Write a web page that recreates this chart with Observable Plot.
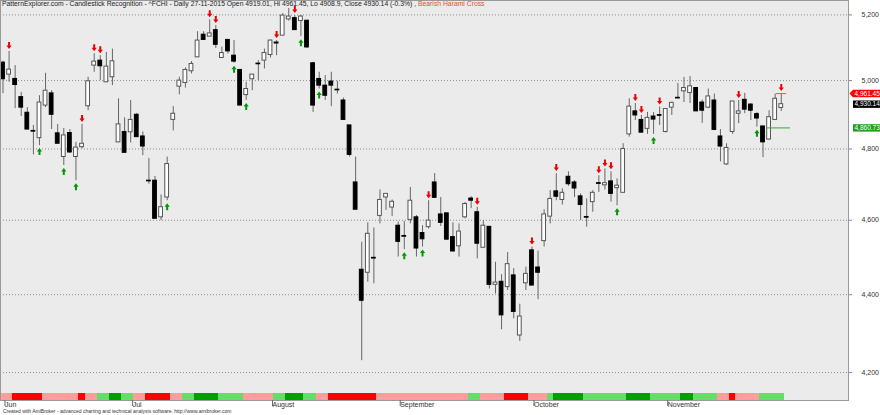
<!DOCTYPE html>
<html><head><meta charset="utf-8">
<script src="https://cdn.jsdelivr.net/npm/d3@7"></script>
<script src="https://cdn.jsdelivr.net/npm/@observablehq/plot@0.6"></script>
<style>
body{margin:0;background:#fff;}
#wrap{position:relative;width:880px;height:415px;overflow:hidden;font-family:"Liberation Sans",Arial,sans-serif;}
#title{position:absolute;left:2px;top:0px;font-size:6.8px;color:#222;white-space:nowrap;}
#title span{color:#e0522a;}
#credit{position:absolute;left:3px;top:408px;font-size:5px;color:#333;white-space:nowrap;}
</style></head><body>
<div id="wrap"><div id="chart"></div>
<div id="title">PatternExplorer.com - Candlestick Recognition - ^FCHI - Daily 27-11-2015 Open 4919.01, Hi 4961.45, Lo 4908.9, Close 4930.14 (-0.3%) , <span>Bearish Harami Cross</span></div>
<div id="credit">Created with AmiBroker - advanced charting and technical analysis software. http://www.amibroker.com</div>
</div>
<script>
// trading days, 2 June 2015 -> 27 Nov 2015
const dates = [
"2015-06-02","2015-06-03","2015-06-04","2015-06-05","2015-06-08","2015-06-09","2015-06-10","2015-06-11","2015-06-12","2015-06-15",
"2015-06-16","2015-06-17","2015-06-18","2015-06-19","2015-06-22","2015-06-23","2015-06-24","2015-06-25","2015-06-26","2015-06-29",
"2015-06-30","2015-07-01","2015-07-02","2015-07-03","2015-07-06","2015-07-07","2015-07-08","2015-07-09","2015-07-10","2015-07-13",
"2015-07-14","2015-07-15","2015-07-16","2015-07-17","2015-07-20","2015-07-21","2015-07-22","2015-07-23","2015-07-24","2015-07-27",
"2015-07-28","2015-07-29","2015-07-30","2015-07-31","2015-08-03","2015-08-04","2015-08-05","2015-08-06","2015-08-07","2015-08-10",
"2015-08-11","2015-08-12","2015-08-13","2015-08-14","2015-08-17","2015-08-18","2015-08-19","2015-08-20","2015-08-21","2015-08-24",
"2015-08-25","2015-08-26","2015-08-27","2015-08-28","2015-08-31","2015-09-01","2015-09-02","2015-09-03","2015-09-04","2015-09-07",
"2015-09-08","2015-09-09","2015-09-10","2015-09-11","2015-09-14","2015-09-15","2015-09-16","2015-09-17","2015-09-18","2015-09-21",
"2015-09-22","2015-09-23","2015-09-24","2015-09-25","2015-09-28","2015-09-29","2015-09-30","2015-10-01","2015-10-02","2015-10-05",
"2015-10-06","2015-10-07","2015-10-08","2015-10-09","2015-10-12","2015-10-13","2015-10-14","2015-10-15","2015-10-16","2015-10-19",
"2015-10-20","2015-10-21","2015-10-22","2015-10-23","2015-10-26","2015-10-27","2015-10-28","2015-10-29","2015-10-30","2015-11-02",
"2015-11-03","2015-11-04","2015-11-05","2015-11-06","2015-11-09","2015-11-10","2015-11-11","2015-11-12","2015-11-13","2015-11-16",
"2015-11-17","2015-11-18","2015-11-19","2015-11-20","2015-11-23","2015-11-24","2015-11-25","2015-11-26","2015-11-27"];

const open = [5054,5018,5005,4951,4905,4852,4831,4926,4962,4845, 4777,4846,4777,4805,4924,5045,5060,4995,5010,4819,
4849,4848,4899,4836,4710,4710,4608,4663,4884,4982, 4993,5028,5070,5139,5133,5153,5068,5123,5075,5032,
4957,5004,5051,5060,5077,5115,5136,5186,5190,5181, 5182,5052,5005,4985,4997,4973,4941,4868,4705,4466,
4458,4498,4612,4663,4635,4585,4557,4601,4608,4565, 4581,4705,4616,4619,4554,4529,4608,4660,4622,4525,
4582,4426,4434,4420,4451,4294,4430,4518,4472,4543, 4610,4680,4656,4721,4705,4666,4609,4650,4703,4697,
4708,4689,4676,4842,4909,4884,4858,4894,4898,4849, 4920,4949,4968,4963,4978,4935,4920,4941,4836,4756,
4849,4902,4943,4929,4901,4865,4827,4884,4919.01];
const high = [5058,5088,5045,4965,4920,4868,4955,5022,4970,4871, 4859,4856,4819,4871,5010,5081,5075,5085,5095,4946,
4890,4941,4903,4849,4773,4722,4670,4777,4923,5010, 5038,5057,5148,5148,5185,5167,5101,5123,5121,5032,
4995,5018,5060,5095,5123,5121,5204,5220,5198,5198, 5184,5055,5025,5015,5025,4998,4948,4868,4777,4540,
4593,4579,4684,4673,4656,4595,4597,4691,4613,4585, 4654,4730,4663,4619,4593,4590,4649,4665,4636,4599,
4582,4486,4453,4512,4469,4375,4473,4527,4516,4629, 4682,4730,4687,4735,4710,4673,4659,4682,4724,4743,
4735,4715,4815,4946,4932,4897,4906,4906,4922,4916, 4936,4992,5010,5012,4978,4942,4975,4960,4856,4815,
4938,4941,4962,4932,4906,4865,4911,4960,4961.45];
const low = [4961,4995,4917,4894,4855,4783,4810,4920,4856,4815, 4753,4787,4710,4801,4911,5025,5000,4995,4985,4819,
4789,4817,4834,4781,4700,4604,4599,4654,4852,4958, 4978,5020,5070,5121,5133,5097,5068,5080,5052,4926,
4941,4970,5000,5035,5068,5075,5136,5181,5153,5133, 5097,4906,4975,4941,4923,4960,4884,4777,4629,4230,
4433,4429,4590,4627,4610,4500,4520,4590,4500,4527, 4576,4662,4583,4545,4513,4500,4604,4632,4495,4525,
4415,4402,4309,4411,4337,4279,4411,4424,4387,4527, 4590,4654,4642,4694,4663,4599,4581,4622,4677,4684,
4650,4640,4676,4834,4882,4847,4842,4842,4868,4846, 4897,4946,4935,4932,4909,4874,4917,4853,4763,4753,
4842,4873,4902,4882,4863,4775,4827,4884,4908.9];
const close = [5004,5033,4987,4920,4856,4850,4935,4970,4899,4815, 4839,4790,4804,4815,4998,5057,5043,5042,5058,4871,
4789,4884,4834,4807,4708,4604,4636,4757,4902,5000, 5032,5050,5121,5123,5143,5108,5083,5088,5057,4926,
4975,5018,5049,5083,5121,5112,5198,5195,5153,5195, 5100,4926,4985,4955,4985,4971,4884,4783,4629,4384,
4563,4496,4656,4673,4651,4541,4555,4654,4523,4548, 4599,4662,4593,4547,4515,4569,4645,4654,4536,4585,
4426,4432,4346,4481,4355,4343,4455,4424,4458,4616, 4659,4665,4676,4700,4688,4642,4607,4676,4701,4703,
4673,4696,4800,4923,4897,4847,4890,4885,4896,4916, 4934,4947,4978,4983,4909,4911,4953,4855,4807,4803,
4938,4909,4914,4911,4888,4819,4892,4946,4930.14];

// trend ribbon state per bar: R strong down, P weak down, G strong up, L weak up
const trend = "PP RRRRR PPPPPP R PP LL GG LL PP RRRR PP LL GGGG LLLL PPPPP LL GGG LL PP RRRRRRRR PPPPPPPPPPPPPPP LL PPPP RRRR PPP L GGGGG LLLLLLL GGGG LLLLL GG LLLL PP R PPPP LLLL".replace(/ /g,"").split("");
const trendColors = {R: "#ff0000", P: "#ff9c9c", G: "#00a000", L: "#66dd66"};

// pattern signals (bar positions)
const bearishSignals = [1,13,15,16,34,35,45,48,70,78,87,91,98,99,100,104,105,108,121,128];
const bullishSignals = [6,10,12,27,38,40,49,52,66,69,101,107,124];

// level lines and right-hand value tags
const levelValues = [4961.45, 4860.73];
const levelColors = ["#ff5050", "#33aa33"];
const levelFrom = [127.2, 125.7];
const levelTo = [128.9, 129.5];
const tagValues = [4961.45, 4930.14, 4860.73];
const tagColors = ["#ff0000", "#000000", "#1f9e1f"];

const yTicks = [4200, 4400, 4600, 4800, 5000, 5200];
const monthLabels = ["Jun", "Jul", "August", "September", "October", "November"];

const bars = dates.map((date, i) => ({i, date, open: open[i], high: high[i], low: low[i], close: close[i], trend: trend[i]}));
const monthStarts = bars.filter((d, i) => i === 0 || d.date.slice(5, 7) !== bars[i - 1].date.slice(5, 7)).map(d => d.i);

const arrowDown = {draw(c) { c.moveTo(-1,-3.5); c.lineTo(1,-3.5); c.lineTo(1,0); c.lineTo(2.6,0); c.lineTo(0,3.5); c.lineTo(-2.6,0); c.lineTo(-1,0); c.closePath(); }};
const arrowUp = {draw(c) { c.moveTo(-1,3.5); c.lineTo(1,3.5); c.lineTo(1,0); c.lineTo(2.6,0); c.lineTo(0,-3.5); c.lineTo(-2.6,0); c.lineTo(-1,0); c.closePath(); }};
const tagShape = (pointer) => ({draw(c) {
  if (pointer) { c.moveTo(1, 0); c.lineTo(4.5, -3.7); } else c.moveTo(4.5, -3.7);
  c.lineTo(34, -3.7); c.lineTo(34, 3.7); c.lineTo(4.5, 3.7);
  if (pointer) c.lineTo(1, 0);
  c.closePath();
}});

const up = d => d.close >= d.open;
const fmt = d3.format(",.2f");
const levels = levelValues.map((v, k) => ({value: v, color: levelColors[k], from: levelFrom[k], to: levelTo[k]}));
const tags = tagValues.map((v, k) => ({value: v, color: tagColors[k], label: fmt(v)}));

const chart = Plot.plot({
  width: 880,
  height: 415,
  marginTop: 0,
  marginLeft: 0,
  marginRight: 32,
  marginBottom: 15,
  style: {fontFamily: "'Liberation Sans', Arial, sans-serif", fontSize: "7px", background: "#ffffff", overflow: "visible"},
  x: {type: "linear", domain: [-0.41, 139.06]},
  y: {type: "log", domain: [4130.6, 5245]},
  marks: [
    Plot.frame({fill: "#ebebeb", stroke: null}),
    Plot.gridY(yTicks, {stroke: "#8c8c8c", strokeOpacity: 1, strokeDasharray: "1,2"}),
    Plot.rect(bars, {x1: d => d.i - 0.5, x2: d => d.i + 0.5, fill: d => trendColors[d.trend], insetTop: 393, shapeRendering: "crispEdges"}),
    Plot.ruleX(bars, {x: "i", y1: "low", y2: "high", stroke: "#666", strokeWidth: 1}),
    Plot.rect(bars, {x1: d => d.i - 0.31, x2: d => d.i + 0.31, y1: "open", y2: "close",
      fill: d => up(d) ? "#ffffff" : "#000000", stroke: d => up(d) ? "#555" : "#000", strokeWidth: 1}),
    Plot.ruleY(levels, {y: "value", x1: "from", x2: "to", stroke: "color", strokeWidth: 1}),
    Plot.dot(bearishSignals.map(k => bars[k]), {x: "i", y: "high", dy: -6, symbol: arrowDown, fill: "#ee0000", stroke: "none"}),
    Plot.dot(bullishSignals.map(k => bars[k]), {x: "i", y: "low", dy: 6, symbol: arrowUp, fill: "#009900", stroke: "none"}),
    Plot.frame({stroke: "#999", fill: "none"}),
    Plot.axisY(yTicks, {anchor: "right", tickFormat: ",", tickSize: 3, tickPadding: 10, fill: "#333", stroke: "#888", fontSize: 7}),
    Plot.axisX(monthStarts, {anchor: "bottom", tickFormat: i => monthLabels[monthStarts.indexOf(i)], tickSize: 6, tickPadding: -4,
      textAnchor: "start", dx: 2, fill: "#333", stroke: "#666", fontSize: 7}),
    ...tags.map((t, k) => Plot.dot([t], {y: "value", frameAnchor: "right", symbol: tagShape(k === 0), fill: "color", stroke: "none"})),
    Plot.text(tags, {y: "value", text: "label", frameAnchor: "right", dx: 6, textAnchor: "start", fill: "white", fontSize: 6.5})
  ]
});
document.getElementById("chart").appendChild(chart);
</script>
</body></html>
